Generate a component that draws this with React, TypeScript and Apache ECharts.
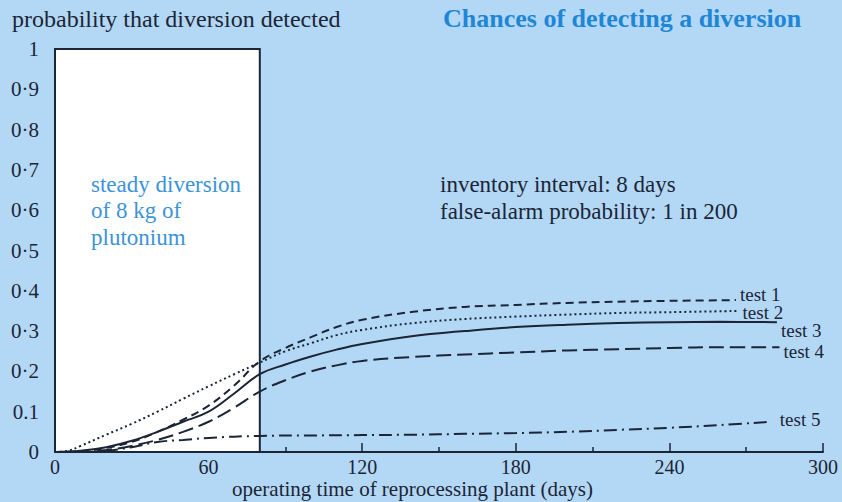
import React, { useEffect, useRef } from "react";
import * as echarts from "echarts";

const yTickLabels = ["0", "0.1", "0·2", "0·3", "0·4", "0·5", "0·6", "0·7", "0·8", "0·9", "1"];
const xTickValues = [0, 60, 120, 180, 240, 300];

const test1Days = [0, 10, 20, 30, 40, 50, 60, 70, 80, 90, 100, 110, 120, 140, 160, 180, 200, 220, 240, 266];
const test1Vals = [0, 0.002, 0.01, 0.025, 0.05, 0.08, 0.115, 0.165, 0.225, 0.258, 0.285, 0.31, 0.328, 0.348, 0.36, 0.365, 0.37, 0.373, 0.375, 0.377];

const test2Days = [0, 5, 10, 20, 30, 40, 50, 60, 70, 80, 90, 100, 110, 120, 140, 160, 180, 200, 220, 240, 267];
const test2Vals = [0, 0.003, 0.015, 0.043, 0.07, 0.1, 0.132, 0.163, 0.193, 0.222, 0.25, 0.27, 0.29, 0.303, 0.32, 0.33, 0.336, 0.341, 0.345, 0.347, 0.35];

const test3Days = [0, 10, 20, 30, 40, 50, 60, 70, 80, 90, 100, 110, 120, 140, 160, 180, 200, 220, 240, 260, 282];
const test3Vals = [0, 0.003, 0.012, 0.028, 0.05, 0.075, 0.1, 0.145, 0.193, 0.217, 0.237, 0.254, 0.268, 0.288, 0.3, 0.31, 0.316, 0.32, 0.322, 0.323, 0.322];

const test4Days = [0, 10, 20, 30, 40, 50, 60, 70, 80, 90, 100, 110, 120, 140, 160, 180, 200, 220, 240, 260, 283];
const test4Vals = [0, 0, 0.005, 0.015, 0.03, 0.05, 0.075, 0.11, 0.15, 0.178, 0.2, 0.215, 0.226, 0.236, 0.242, 0.247, 0.252, 0.255, 0.258, 0.26, 0.26];

const test5Days = [0, 10, 20, 30, 40, 50, 60, 80, 100, 120, 140, 160, 180, 200, 220, 240, 260, 280];
const test5Vals = [0, 0, 0.003, 0.012, 0.025, 0.03, 0.035, 0.04, 0.041, 0.042, 0.043, 0.045, 0.047, 0.05, 0.055, 0.06, 0.067, 0.075];

const seriesNames = ["test 1", "test 2", "test 3", "test 4", "test 5"];

const boxStartDay = 0;
const boxEndDay = 80;

const INK = "#1b2536";
const FONT = "'Liberation Serif', 'DejaVu Serif', serif";

function pairs(xs: number[], ys: number[]) {
  return xs.map((x, i) => [x, ys[i]]);
}

export default function App() {
  const ref = useRef<HTMLDivElement>(null);
  useEffect(() => {
    if (!ref.current) return;
    const chart = echarts.init(ref.current, null, { renderer: "svg" });
    const lineCommon = (name: string, data: number[][], type: any, offset: number[]) => ({
      name,
      type: "line",
      data,
      smooth: 0.4,
      showSymbol: false,
      symbol: "none",
      lineStyle: { color: INK, width: 2, type },
      endLabel: {
        show: true,
        formatter: name,
        color: INK,
        fontFamily: FONT,
        fontSize: 19,
        lineHeight: 14,
        offset,
        distance: 4,
      },
      z: 5,
    });
    chart.setOption({
      animation: false,
      backgroundColor: "#b3d8f6",
      grid: { left: 55, right: 19, top: 49, bottom: 50, containLabel: false, outerBoundsMode: "none" },
      xAxis: {
        type: "value",
        min: 0,
        max: 300,
        interval: 60,
        axisLine: { show: true, lineStyle: { color: INK, width: 2 } },
        axisTick: { show: true, inside: true, length: 9, lineStyle: { color: INK, width: 1.5 } },
        minorTick: { show: true, splitNumber: 2, length: 5, lineStyle: { color: INK, width: 1.5 } },
        axisLabel: {
          color: INK,
          fontFamily: FONT,
          fontSize: 20,
          margin: 5,
          formatter: (v: number) => (xTickValues.includes(v) ? String(v) : ""),
        },
        splitLine: { show: false },
      },
      yAxis: {
        type: "value",
        min: 0,
        max: 1,
        interval: 0.1,
        axisLine: { show: true, lineStyle: { color: INK, width: 2 } },
        axisTick: { show: true, inside: true, length: 12, lineStyle: { color: INK, width: 1.5 } },
        minorTick: { show: true, splitNumber: 2, length: 8, lineStyle: { color: INK, width: 1.5 } },
        axisLabel: {
          color: INK,
          fontFamily: FONT,
          fontSize: 21,
          margin: 16,
          formatter: (v: number) => yTickLabels[Math.round(v * 10)] ?? "",
        },
        splitLine: { show: false },
      },
      graphic: [
        {
          type: "text",
          left: 12,
          top: 7,
          style: { text: "probability that diversion detected", fill: INK, font: `24px ${FONT}` },
        },
        {
          type: "text",
          left: 443,
          top: 5,
          style: { text: "Chances of detecting a diversion", fill: "#1f86d6", font: `bold 26px ${FONT}` },
        },
        {
          type: "text",
          left: 232,
          top: 478,
          style: {
            text: "operating time of reprocessing plant (days)",
            fill: INK,
            font: `21px ${FONT}`,
          },
        },
        {
          type: "text",
          left: 440,
          top: 171,
          style: {
            text: "inventory interval: 8 days\nfalse-alarm probability: 1 in 200",
            fill: INK,
            font: `23px ${FONT}`,
            lineHeight: 27,
          },
        },
        {
          type: "text",
          left: 91,
          top: 171,
          z: 10,
          style: {
            text: "steady diversion\nof 8 kg of\nplutonium",
            fill: "#3b93d8",
            font: `23px ${FONT}`,
            lineHeight: 26.5,
          },
        },
      ],
      series: [
        {
          ...lineCommon(seriesNames[0], pairs(test1Days, test1Vals), [8, 5], [0, -6]),
          markArea: {
            silent: true,
            z: 1,
            itemStyle: { color: "#ffffff", borderColor: INK, borderWidth: 2 },
            data: [[{ xAxis: boxStartDay, yAxis: 0 }, { xAxis: boxEndDay, yAxis: 1 }]],
          },
        },
        lineCommon(seriesNames[1], pairs(test2Days, test2Vals), [2, 3], [0, 2]),
        lineCommon(seriesNames[2], pairs(test3Days, test3Vals), "solid", [0, 8]),
        lineCommon(seriesNames[3], pairs(test4Days, test4Vals), [15, 6], [0, 4]),
        lineCommon(seriesNames[4], pairs(test5Days, test5Vals), [13, 5, 2, 5], [4, -2]),
      ],
    });
    return () => chart.dispose();
  }, []);
  return <div ref={ref} style={{ position: "fixed", left: 0, top: 0, width: 842, height: 502 }} />;
}
